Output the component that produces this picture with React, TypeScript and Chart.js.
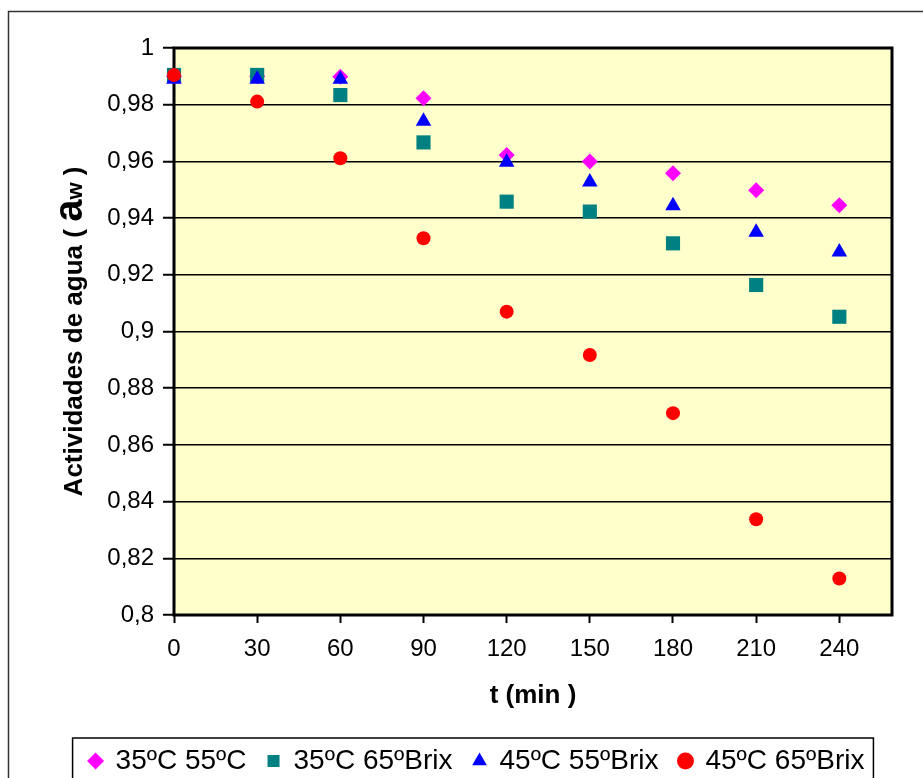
import React, { useEffect, useRef } from "react";
import { Chart, registerables } from "chart.js";

Chart.register(...registerables);

// ---- data ----
const times = [0, 30, 60, 90, 120, 150, 180, 210, 240];
const aw35_55 = [0.99, 0.99, 0.9899, 0.9823, 0.9623, 0.96, 0.9558, 0.9498, 0.9445];
const aw35_65 = [0.9905, 0.9905, 0.9834, 0.9667, 0.9458, 0.9423, 0.9311, 0.9164, 0.9052];
const aw45_55 = [0.989, 0.989, 0.989, 0.9742, 0.9597, 0.9527, 0.9444, 0.935, 0.928];
const aw45_65 = [0.9905, 0.9811, 0.9611, 0.9329, 0.907, 0.8917, 0.8712, 0.8338, 0.8129];
const seriesLabels = ["35ºC 55ºC", "35ºC 65ºBrix", "45ºC 55ºBrix", "45ºC 65ºBrix"];
const xTickValues = [0, 30, 60, 90, 120, 150, 180, 210, 240];
const yTickValues = [0.8, 0.82, 0.84, 0.86, 0.88, 0.9, 0.92, 0.94, 0.96, 0.98, 1];
const yTickLabels = ["0,8", "0,82", "0,84", "0,86", "0,88", "0,9", "0,92", "0,94", "0,96", "0,98", "1"];
const xTitle = "t (min )";
const yTitleParts = ["Actividades de agua ( ", "a", "w", " )"];

const FONT = '"Liberation Sans", Arial, Helvetica, sans-serif';

export default function App() {
  const ref = useRef<HTMLCanvasElement>(null);

  useEffect(() => {
    const canvas = ref.current!;
    const toPts = (vals: number[]) => times.map((t, i) => ({ x: t, y: vals[i] }));

    const decor = {
      id: "decor",
      beforeDraw(chart: any) {
        const { ctx, chartArea: a } = chart;
        ctx.save();
        ctx.fillStyle = "#ffffff";
        ctx.fillRect(0, 0, chart.width, chart.height);
        ctx.fillStyle = "#FFFFCC";
        ctx.fillRect(a.left, a.top, a.right - a.left, a.bottom - a.top);
        ctx.strokeStyle = "#333";
        ctx.lineWidth = 1.5;
        ctx.beginPath();
        ctx.moveTo(8.5, chart.height);
        ctx.lineTo(8.5, 11.5);
        ctx.lineTo(chart.width, 11.5);
        ctx.stroke();
        ctx.restore();
      },
      beforeDatasetsDraw(chart: any) {
        const { ctx, chartArea: a } = chart;
        ctx.save();
        ctx.strokeStyle = "#000";
        ctx.lineWidth = 3;
        ctx.strokeRect(a.left, a.top, a.right - a.left, a.bottom - a.top);
        ctx.restore();
      },
      afterDraw(chart: any) {
        const { ctx, chartArea: a } = chart;
        // y axis title with large "a" and small "w"
        const fonts = [
          "bold 26px " + FONT,
          "bold 40px " + FONT,
          "bold 22px " + FONT,
          "bold 26px " + FONT,
        ];
        ctx.save();
        ctx.fillStyle = "#000";
        ctx.textBaseline = "alphabetic";
        ctx.textAlign = "left";
        let total = 0;
        const widths = yTitleParts.map((p, i) => {
          ctx.font = fonts[i];
          const w = ctx.measureText(p).width;
          total += w;
          return w;
        });
        ctx.translate(82, (a.top + a.bottom) / 2);
        ctx.rotate(-Math.PI / 2);
        let x = -total / 2;
        yTitleParts.forEach((p, i) => {
          ctx.font = fonts[i];
          ctx.fillText(p, x, 0);
          x += widths[i];
        });
        ctx.restore();
        // legend frame
        const lg = chart.legend;
        const hb = lg && lg.legendHitBoxes;
        if (hb && hb.length) {
          const first = hb[0];
          const last = hb[hb.length - 1];
          const left = first.left - 17;
          const right = last.left + last.width + 9;
          const top = first.top - 9;
          ctx.save();
          ctx.strokeStyle = "#000";
          ctx.lineWidth = 1.5;
          ctx.beginPath();
          ctx.moveTo(left, chart.height + 5);
          ctx.lineTo(left, top);
          ctx.lineTo(right, top);
          ctx.lineTo(right, chart.height + 5);
          ctx.stroke();
          ctx.restore();
        }
      },
    };

    const chart = new Chart(canvas, {
      type: "scatter",
      data: {
        datasets: [
          {
            label: seriesLabels[0],
            data: toPts(aw35_55),
            pointStyle: "rectRot",
            pointRadius: 8,
            backgroundColor: "#FF00FF",
            borderColor: "#FF00FF",
            borderWidth: 0,
            order: 4,
            clip: false,
          },
          {
            label: seriesLabels[1],
            data: toPts(aw35_65),
            pointStyle: "rect",
            pointRadius: 10,
            backgroundColor: "#008080",
            borderColor: "#008080",
            borderWidth: 0,
            order: 3,
            clip: false,
          },
          {
            label: seriesLabels[2],
            data: toPts(aw45_55),
            pointStyle: "triangle",
            pointRadius: 9,
            backgroundColor: "#0000FF",
            borderColor: "#0000FF",
            borderWidth: 0,
            order: 2,
            clip: false,
          },
          {
            label: seriesLabels[3],
            data: toPts(aw45_65),
            pointStyle: "circle",
            pointRadius: 7,
            backgroundColor: "#FF0000",
            borderColor: "#FF0000",
            borderWidth: 0,
            order: 1,
            clip: false,
          },
        ] as any,
      },
      options: {
        responsive: false,
        devicePixelRatio: 1,
        animation: false,
        events: [],
        layout: { padding: { left: 62, right: 31, top: 48, bottom: 0 } },
        plugins: {
          tooltip: { enabled: false },
          title: { display: false },
          legend: {
            display: true,
            position: "bottom",
            maxHeight: 52,
            labels: {
              usePointStyle: true,
              boxWidth: 12,
              boxHeight: 12,
              padding: 21,
              color: "#000",
              font: { size: 28, family: FONT },
              sort: (a: any, b: any) => a.datasetIndex - b.datasetIndex,
            },
          } as any,
        },
        scales: {
          x: {
            type: "linear",
            min: 0,
            max: 259,
            afterBuildTicks: (s: any) => {
              s.ticks = xTickValues.map((v) => ({ value: v }));
            },
            afterFit: (s: any) => {
              s.height = 111;
            },
            ticks: {
              color: "#000",
              font: { size: 24, family: FONT },
              padding: 12,
              maxRotation: 0,
              autoSkip: false,
              callback: (v: any) => String(v),
            },
            grid: {
              drawOnChartArea: false,
              drawTicks: true,
              tickLength: 8,
              tickColor: "#000",
              tickWidth: 2,
            },
            border: { display: false },
            title: {
              display: true,
              text: xTitle,
              color: "#000",
              font: { size: 26, weight: "bold", family: FONT },
              padding: { top: 0, bottom: 15 },
            },
          },
          y: {
            type: "linear",
            min: 0.8,
            max: 1,
            afterBuildTicks: (s: any) => {
              s.ticks = yTickValues.map((v) => ({ value: v }));
            },
            afterFit: (s: any) => {
              s.width = 112;
            },
            ticks: {
              color: "#000",
              font: { size: 24, family: FONT },
              padding: 9,
              autoSkip: false,
              callback: (_v: any, i: number) => yTickLabels[i],
            },
            grid: {
              color: "#000",
              lineWidth: 1.5,
              drawTicks: true,
              tickLength: 11,
              tickColor: "#000",
              tickWidth: 2,
            },
            border: { display: false },
            title: { display: false },
          },
        } as any,
      },
      plugins: [decor],
    });

    return () => chart.destroy();
  }, []);

  return (
    <div style={{ position: "fixed", left: 0, top: 0, width: 923, height: 778, background: "#fff" }}>
      <canvas ref={ref} width={923} height={778} style={{ display: "block" }} />
    </div>
  );
}
